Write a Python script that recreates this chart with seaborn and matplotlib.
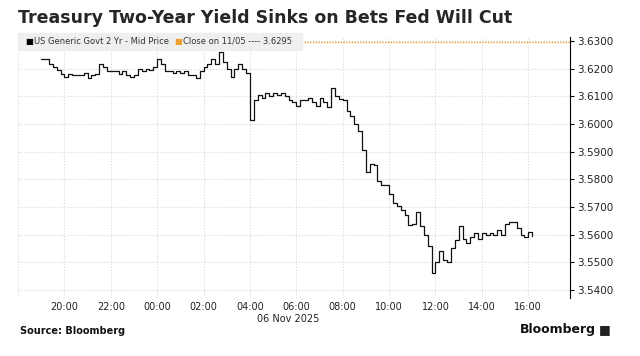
import numpy as np
import pandas as pd
import seaborn as sns
import matplotlib.pyplot as plt
import matplotlib.dates as mdates

# 2yr yield, 10-minute readings starting 05 Nov 19:00
yield_vals = [
    3.6235, 3.6235, 3.6215, 3.6205, 3.6195, 3.6180, 3.6170, 3.6180, 3.6175, 3.6178,
    3.6178, 3.6185, 3.6165, 3.6178, 3.6180, 3.6217, 3.6205, 3.6190, 3.6190, 3.6190,
    3.6180, 3.6190, 3.6178, 3.6168, 3.6178, 3.6200, 3.6190, 3.6200, 3.6195, 3.6205,
    3.6235, 3.6215, 3.6190, 3.6190, 3.6185, 3.6190, 3.6185, 3.6190, 3.6178, 3.6178,
    3.6165, 3.6190, 3.6205, 3.6217, 3.6235, 3.6215, 3.6258, 3.6225, 3.6200, 3.6168,
    3.6200, 3.6215, 3.6200, 3.6185, 3.6015, 3.6085, 3.6105, 3.6095, 3.6110, 3.6100,
    3.6110, 3.6105, 3.6110, 3.6100, 3.6085, 3.6080, 3.6065, 3.6085, 3.6085, 3.6095,
    3.6080, 3.6065, 3.6095, 3.6080, 3.6060, 3.6130, 3.6100, 3.6090, 3.6085, 3.6045,
    3.6030, 3.6000, 3.5975, 3.5905, 3.5825, 3.5855, 3.5850, 3.5795, 3.5780, 3.5780,
    3.5745, 3.5715, 3.5705, 3.5690, 3.5670, 3.5635, 3.5640, 3.5680, 3.5630, 3.5600,
    3.5560, 3.5460, 3.5500, 3.5540, 3.5510, 3.5500, 3.5550, 3.5580, 3.5630, 3.5585,
    3.5570, 3.5590, 3.5605, 3.5585, 3.5605, 3.5600, 3.5605, 3.5600, 3.5615, 3.5600,
    3.5640, 3.5645, 3.5645, 3.5625, 3.5600, 3.5590, 3.5610, 3.5595,
]
prev_close = 3.6295
y_ticks = [3.54, 3.55, 3.56, 3.57, 3.58, 3.59, 3.60, 3.61, 3.62, 3.63]

times = pd.date_range("2025-11-05 19:00", periods=len(yield_vals), freq="10min")
df = pd.DataFrame({"time": times, "yield": yield_vals})

sns.set_style("white")
plt.rcParams["font.family"] = ["DejaVu Sans"]

fig = plt.figure(figsize=(6.4, 3.56), dpi=100)
ax = fig.add_axes([18 / 640, 1 - 298 / 356, 552 / 640, 261 / 356])

ax.axhline(prev_close, color="#f0a030", lw=1, ls=(0, (1, 1)), zorder=2)
sns.lineplot(data=df, x="time", y="yield", ax=ax, color="#111111", lw=0.9,
             drawstyle="steps-post", zorder=3)

ax.set_xlim(pd.Timestamp("2025-11-05 18:00"), pd.Timestamp("2025-11-06 17:48"))
ax.set_ylim(3.5371, 3.6314)
ax.set_xlabel("")
ax.set_ylabel("")

ax.xaxis.set_major_locator(mdates.HourLocator(byhour=range(0, 24, 2)))
ax.xaxis.set_major_formatter(mdates.DateFormatter("%H:%M"))
ax.set_yticks(y_ticks)
ax.yaxis.tick_right()
ax.set_yticklabels([f"{v:.4f}" for v in y_ticks])
ax.tick_params(axis="y", right=True, length=3, width=0.8, color="black",
               labelsize=7.5, pad=2, labelcolor="#222222")
ax.tick_params(axis="x", bottom=False, length=0, labelsize=7, pad=3,
               labelcolor="#222222")

ax.grid(True, color="#d8d8d8", ls=(0, (1, 1.5)), lw=0.8)
for s in ["top", "left", "bottom"]:
    ax.spines[s].set_visible(False)
ax.spines["right"].set_color("black")
ax.spines["right"].set_linewidth(0.8)

# hide the 18:00 label at the edge
fig.canvas.draw()
for t in ax.get_xticklabels():
    if t.get_text() == "18:00":
        t.set_visible(False)

fig.text(288 / 640, 1 - 319.5 / 356, "06 Nov 2025", ha="center", va="center",
         fontsize=7, color="#222222")

# legend strip
fig.patches.append(plt.Rectangle((18 / 640, 1 - 50 / 356), 284 / 640, 17 / 356,
                                 transform=fig.transFigure, color="#efefef", zorder=1))
fig.text(25 / 640, 1 - 41.5 / 356, "\u25a0", color="black", fontsize=6, va="center")
fig.text(34 / 640, 1 - 41.5 / 356, "US Generic Govt 2 Yr - Mid Price", fontsize=6,
         va="center", color="#333333")
fig.text(174 / 640, 1 - 41.5 / 356, "\u25a0", color="#f0a030", fontsize=6, va="center")
fig.text(183 / 640, 1 - 41.5 / 356, "Close on 11/05 ---- 3.6295", fontsize=6,
         va="center", color="#333333")

fig.text(18 / 640, 1 - 18 / 356, "Treasury Two-Year Yield Sinks on Bets Fed Will Cut",
         fontsize=12.5, fontweight="bold", va="center", ha="left")
fig.text(20 / 640, 1 - 331 / 356, "Source: Bloomberg", fontsize=7, fontweight="bold",
         va="center", color="#111111")
fig.text(596 / 640, 1 - 330 / 356, "Bloomberg", fontsize=9, fontweight="bold",
         va="center", ha="right", color="#111111")
fig.text(599 / 640, 1 - 330 / 356, "\u25a0", fontsize=9, va="center", ha="left",
         color="#222222")

fig.savefig("out.png", dpi=100)
